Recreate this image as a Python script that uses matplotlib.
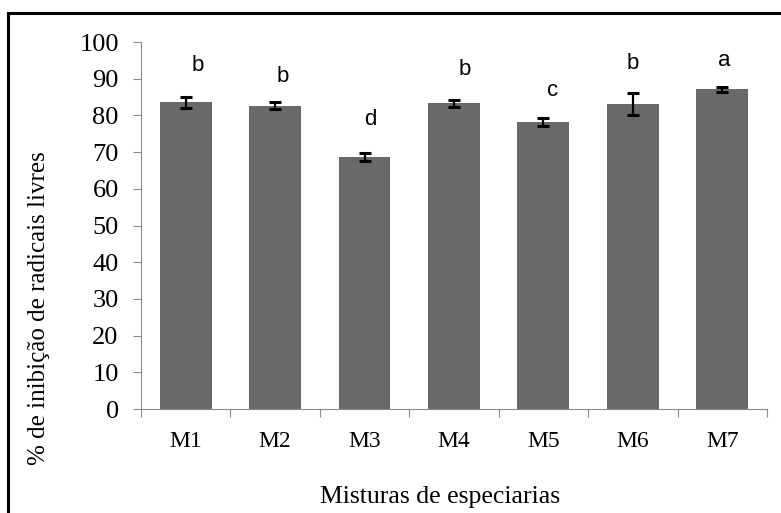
import numpy as np
import matplotlib
matplotlib.use("Agg")
import matplotlib.pyplot as plt
from matplotlib.lines import Line2D

# data
mixes = ["M1", "M2", "M3", "M4", "M5", "M6", "M7"]
inhib = [83.6, 82.7, 68.7, 83.3, 78.1, 83.0, 87.1]
err = [1.5, 1.0, 1.2, 1.0, 1.1, 3.0, 0.7]
letters = ["b", "b", "d", "b", "c", "b", "a"]
letter_y = [93.5, 90.5, 79.0, 92.4, 86.9, 94.2, 95.1]

# small horizontal nudges of the letters (layout only)
letter_dx = [0.13, 0.08, 0.07, 0.12, 0.10, 0.0, 0.02]

SERIF = ["Liberation Serif", "DejaVu Serif"]
SANS = ["Liberation Sans", "DejaVu Sans"]
GREY = "#8c8c8c"

fig = plt.figure(figsize=(7.81, 5.13), dpi=100)
ax = fig.add_axes([0.1805, 0.2027, 0.8015, 0.7153])

x = np.arange(len(mixes))
ax.bar(x, inhib, width=0.58, color="#696969", zorder=2)
ax.errorbar(x, inhib, yerr=err, fmt="none", ecolor="black", elinewidth=1.6,
            capsize=4.5, capthick=2.2, zorder=3)
for i, (lab, ly) in enumerate(zip(letters, letter_y)):
    ax.text(x[i] + letter_dx[i], ly, lab, ha="center", va="center",
            fontsize=16, family=SANS)

ax.set_xlim(-0.5, len(mixes) - 0.5)
ax.set_ylim(0, 100)
ax.set_yticks(np.arange(0, 101, 10))
ax.tick_params(axis="y", direction="out", length=6, width=0.8, color=GREY,
               pad=10, labelsize=19)
for t in ax.get_yticklabels():
    t.set_family(SERIF)

# category boundaries as major ticks, names on minor ticks
ax.set_xticks(np.arange(-0.5, len(mixes)), labels=[""] * (len(mixes) + 1))
ax.set_xticks(x, labels=mixes, minor=True)
ax.tick_params(axis="x", which="major", direction="out", length=6, width=0.8, color=GREY)
ax.tick_params(axis="x", which="minor", length=0, pad=16, labelsize=17)
for t in ax.get_xticklabels(minor=True):
    t.set_family(SERIF)

for s in ("top", "right"):
    ax.spines[s].set_visible(False)
for s in ("left", "bottom"):
    ax.spines[s].set_color(GREY)
    ax.spines[s].set_linewidth(0.8)

fig.text(0.05, 0.40, "% de inibição de radicais livres", rotation=90,
         ha="center", va="center", fontsize=18, family=SERIF)
fig.text(0.563, 0.031, "Misturas de especiarias", ha="center", va="center",
         fontsize=18.5, family=SERIF)

# outer frame (cropped on right and bottom)
fig.add_artist(Line2D([0.0105, 1.0], [0.9747, 0.9747], transform=fig.transFigure,
                      color="black", lw=2.2))
fig.add_artist(Line2D([0.0105, 0.0105], [0.0, 0.9747], transform=fig.transFigure,
                      color="black", lw=2.2))

fig.savefig("out.png", dpi=100, facecolor="white")
